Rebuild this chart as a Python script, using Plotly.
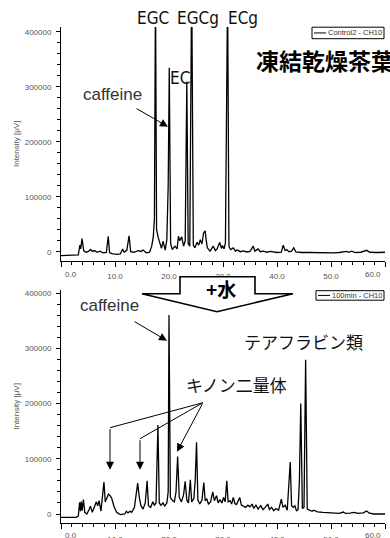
import plotly.graph_objects as go

# ---------------- data ----------------
# Control (freeze-dried tea leaves) chromatogram, time [min] / intensity [uV]
ctrl_time = [0.0, 2.8, 3.2, 3.5, 3.65, 3.9, 4.2, 4.6, 5.0, 5.5, 5.8, 6.2, 6.7, 7.2, 7.8, 8.4, 8.75, 9.0,
             9.6, 10.5, 11.0, 11.4, 11.7, 12.2, 12.6, 12.9, 13.5, 14.3, 14.8, 15.2, 15.8, 16.4, 16.8, 17.1,
             17.3, 17.5, 17.7, 18.0, 18.3, 18.6, 18.9, 19.3, 19.6, 19.85, 20.05, 20.3, 20.6, 21.1, 21.5,
             21.75, 22.0, 22.35, 22.7, 23.0, 23.3, 23.55, 23.85, 24.2, 24.5, 24.8, 25.2, 25.5, 25.8, 26.1,
             26.4, 26.7, 26.9, 27.1, 27.6, 28.2, 28.6, 28.9, 29.4, 29.7, 29.9, 30.2, 30.45, 30.85, 31.1,
             31.4, 31.9, 32.3, 32.6, 33.2, 33.8, 34.4, 35.0, 35.6, 35.9, 36.2, 36.5, 36.9, 37.5, 38.1, 38.8,
             40.0, 40.8, 41.15, 41.5, 41.8, 42.2, 42.7, 43.1, 43.5, 44.5, 46.0, 47.5, 49.0, 50.5, 51.5,
             52.9, 53.3, 53.8, 54.5, 55.5, 56.6, 57.2, 58.5, 60.0]
ctrl_int = [-7000, -7000, -6000, 12000, 5000, 24000, 2000, -1000, 0, 4000, 500, 2000, -1000, 1000, -2000,
            -1500, 28000, -2000, -4000, -5000, -4000, 5000, -1000, 3000, 29000, 0, -1000, 2000, 500, 3000,
            -2000, -1000, 10000, 28000, 60000, 480000, 40000, 26000, 15000, 6000, 19000, 3000, 22000, 120000,
            335000, 15000, 4000, 10000, 5000, 28000, 20000, 27000, 10000, 20000, 310000, 15000, 10000,
            500000, 12000, 7000, 17000, 12000, 22000, 14000, 34000, 38000, 20000, 7000, 1000, 10000, 2000,
            5000, 17000, 6000, 11000, 5000, 16000, 480000, 10000, 4000, 7000, 1000, 3000, 0, 1500, -500,
            500, 10000, 1000, 3000, 5000, 0, 1000, -1000, 500, -1500, -1000, 12000, 2000, 4000, 0, 1000,
            7000, -500, -1500, -1500, -2000, -1800, -2000, -1500, 500, -1000, 1000, -1500, -1000, 2500,
            -1000, -1500, -1000]

# After 100 min with water
wet_time = [0.0, 2.8, 3.2, 3.45, 3.6, 3.75, 3.9, 4.15, 4.4, 4.8, 5.2, 5.45, 5.8, 6.2, 6.55, 6.8, 7.05,
            7.4, 7.95, 8.2, 8.5, 8.8, 9.1, 9.4, 9.8, 10.3, 11.0, 11.8, 12.1, 12.4, 12.8, 13.1, 13.6, 13.95,
            14.2, 14.5, 14.8, 15.2, 15.6, 15.95, 16.2, 16.6, 17.0, 17.3, 17.6, 17.95, 18.2, 18.5, 18.9,
            19.2, 19.6, 19.85, 20.0, 20.25, 20.6, 21.0, 21.3, 21.6, 21.9, 22.3, 22.7, 23.0, 23.3, 23.6,
            23.95, 24.2, 24.6, 24.85, 25.1, 25.35, 25.7, 26.1, 26.45, 26.7, 27.0, 27.3, 27.7, 28.1, 28.4,
            28.8, 29.1, 29.4, 29.8, 30.1, 30.4, 30.7, 30.95, 31.3, 31.6, 31.9, 32.2, 32.5, 32.8, 33.1,
            33.4, 33.7, 34.2, 34.6, 35.0, 35.4, 35.7, 36.1, 36.5, 37.0, 37.4, 37.8, 38.3, 38.6, 39.0,
            39.4, 39.8, 40.3, 40.8, 41.1, 41.5, 41.9, 42.2, 42.45, 42.7, 43.0, 43.3, 43.6, 43.9, 44.15,
            44.4, 44.7, 45.0, 45.3, 45.6, 46.0, 46.5, 46.8, 47.5, 48.5, 49.5, 50.5, 51.5, 52.3, 52.7,
            53.5, 54.3, 55.0, 56.0, 56.6, 57.1, 58.0, 59.0, 60.0]
wet_int = [-6000, -6000, -4000, 21000, 5000, 22500, 6000, 26000, 3000, 0, 8000, 14000, 3000, 12000, 22000,
           15000, 24000, 5000, 58000, 22000, 30000, 36000, 33000, 28000, 14000, 3000, -1000, 0, 5000, 2000,
           5000, 3000, 12000, 35000, 56000, 30000, 15000, 9000, 20000, 60000, 15000, 12000, 22000, 16000,
           20000, 161000, 20000, 16000, 20000, 14000, 20000, 40000, 360000, 30000, 25000, 22000, 40000,
           104000, 30000, 22000, 35000, 59000, 25000, 20000, 62000, 22000, 28000, 60000, 130000, 25000,
           18000, 25000, 57000, 24000, 27000, 18000, 22000, 40000, 24000, 33000, 20000, 26000, 20000, 30000,
           22000, 60000, 22000, 24000, 18000, 30000, 19000, 17000, 24000, 30000, 16000, 15000, 12000, 16000,
           13000, 18000, 10000, 16000, 9000, 15000, 8000, 12000, 18000, 8000, 12000, 6000, 10000, 7000,
           27000, 12000, 16000, 7000, 50000, 94000, 15000, 12000, 15000, 6000, 8000, 60000, 200000, 10000,
           12000, 279000, 9000, 7000, 5000, 7000, 4000, 3000, 2000, 1500, 1000, 3500, 1000, 1500, 3000,
           1000, 2000, 5500, 1500, 0, -500, 0]

x_ticks = [0, 10, 20, 30, 40, 50, 60]
x_labels = ["0.0", "10.0", "20.0", "30.0", "40.0", "50.0", "60.0"]
y_ticks = [0, 100000, 200000, 300000, 400000]
series_names = ["Control2 - CH10", "100min - CH10"]

# ---------------- layout helpers (pixel -> paper) ----------------
W, H = 390, 538
L, R, T, B = 61, 385, 27.3, 523.3


def px(x):
    return (x - L) / (R - L)


def py(y):
    return 1 - (y - T) / (B - T)


TICK_FONT = dict(family="Liberation Sans, Arial, sans-serif", size=8, color="#555555")
LABEL_FONT = "Liberation Sans, Arial, sans-serif"
JP_FONT = "Noto Sans CJK JP, sans-serif"

fig = go.Figure()
fig.add_trace(go.Scatter(x=ctrl_time, y=ctrl_int, mode="lines", name=series_names[0],
                         line=dict(color="black", width=1.3), xaxis="x", yaxis="y", showlegend=False))
fig.add_trace(go.Scatter(x=wet_time, y=wet_int, mode="lines", name=series_names[1],
                         line=dict(color="black", width=1.3), xaxis="x2", yaxis="y2", showlegend=False))

# inner tick labels come from the axis; the two edge labels are nudged inwards like the original
inner_text = [""] + x_labels[1:-1] + [""]


def xaxis(anchor):
    return dict(anchor=anchor, range=[0, 60], tickvals=x_ticks, ticktext=inner_text, automargin=False,
                showline=True, linecolor="black", linewidth=1, ticks="outside", ticklen=5,
                tickcolor="black", tickwidth=1, showgrid=False, zeroline=False,
                minor=dict(dtick=2, ticks="outside", ticklen=3, tickcolor="black", showgrid=False),
                tickfont=TICK_FONT, ticklabelstandoff=3)


def yaxis(anchor, domain, rng):
    return dict(anchor=anchor, domain=domain, range=rng, tickvals=y_ticks, tickformat="d",
                automargin=False,
                showline=True, linecolor="black", linewidth=1, ticks="outside", ticklen=4,
                tickcolor="black", tickwidth=1, showgrid=False, zeroline=False,
                minor=dict(dtick=20000, ticks="outside", ticklen=3, tickcolor="black", showgrid=False),
                tickfont=TICK_FONT, ticklabelstandoff=3,
                title=dict(text="Intensity [μV]", font=TICK_FONT, standoff=3))


fig.update_layout(
    width=W, height=H,
    margin=dict(l=L, r=W - R, t=T, b=H - B, pad=0, autoexpand=False),
    paper_bgcolor="white", plot_bgcolor="white",
    xaxis=xaxis("y"), xaxis2=xaxis("y2"),
    yaxis=yaxis("x", [py(261), 1], [-16400, 409000]),
    yaxis2=yaxis("x2", [0, py(290)], [-16300, 406000]),
)

ann = []
shapes = []


def text(x, y, s, size, family=LABEL_FONT, color="#222222", xanchor="center", weight="normal"):
    ann.append(dict(x=px(x), y=py(y), xref="paper", yref="paper", text=s, showarrow=False,
                    xanchor=xanchor, yanchor="middle",
                    font=dict(family=family, size=size, color=color, weight=weight)))


def arrow(tx, ty, hx, hy):
    ann.append(dict(x=px(hx), y=py(hy), xref="paper", yref="paper", text="", showarrow=True,
                    ax=tx - hx, ay=ty - hy, axref="pixel", ayref="pixel",
                    arrowhead=2, arrowsize=1.6, arrowwidth=1, arrowcolor="black",
                    font=dict(size=1)))


# edge tick labels of both x axes
for ylab in [275, 536]:
    ann.append(dict(x=0, y=py(ylab), xref="paper", yref="paper", text=x_labels[0], showarrow=False,
                    xanchor="left", xshift=2, yanchor="middle", font=TICK_FONT))
    ann.append(dict(x=1, y=py(ylab), xref="paper", yref="paper", text=x_labels[-1], showarrow=False,
                    xanchor="right", xshift=-2, yanchor="middle", font=TICK_FONT))

NARROW = "Liberation Sans Narrow, DejaVu Sans Condensed, Arial Narrow, sans-serif"
# top panel labels
text(153, 18.5, "EGC", 17, NARROW, "#111111")
text(198, 18.5, "EGCg", 17, NARROW, "#111111")
text(243, 18.5, "ECg", 17, NARROW, "#111111")
text(180, 78, "EC", 17, NARROW, "#111111")
text(112, 95, "caffeine", 17, LABEL_FONT, "#333333")
arrow(135, 108, 168, 127)
# big sample title, running off the right edge as in the original
text(254, 60, "凍結乾燥茶葉", 23, JP_FONT, "black", xanchor="left", weight="bold")

# bottom panel labels
text(109, 306, "caffeine", 17, LABEL_FONT, "#333333")
arrow(133, 321, 167, 341)
text(303, 342, "テアフラビン類", 17, JP_FONT, "#111111")
text(236, 385, "キノン二量体", 17, JP_FONT, "#111111")

# quinone-dimer pointer lines
ox, oy = 203, 403
for bx, by in [(110, 428), (140, 439)]:
    shapes.append(dict(type="line", xref="paper", yref="paper", x0=px(ox), y0=py(oy), x1=px(bx), y1=py(by),
                       line=dict(color="black", width=1)))
    arrow(bx, by, bx, 470)
arrow(ox, oy, 177, 452)

# big "+水" block arrow between panels
pts = [(180, 277), (255, 277), (255, 294), (293, 294), (217, 312), (142, 294), (180, 294)]
path = "M " + " L ".join(f"{px(a):.5f},{py(b):.5f}" for a, b in pts) + " Z"
shapes.append(dict(type="path", xref="paper", yref="paper", path=path, fillcolor="white",
                   line=dict(color="black", width=1.6), layer="above"))
text(221, 289, "+水", 19, JP_FONT, "black", weight="bold")

# legend-like boxes
for (x0, y0, x1, y1), name in [((312, 27.5, 384, 39), series_names[0]),
                               ((316, 291, 384, 300.5), series_names[1])]:
    shapes.append(dict(type="rect", xref="paper", yref="paper", x0=px(x0), y0=py(y0), x1=px(x1), y1=py(y1),
                       fillcolor="white", line=dict(color="black", width=1), layer="above"))
    ym = (y0 + y1) / 2
    shapes.append(dict(type="line", xref="paper", yref="paper", x0=px(x0 + 2), y0=py(ym), x1=px(x0 + 14),
                       y1=py(ym), line=dict(color="black", width=1), layer="above"))
    text(x0 + 14, ym, name, 7.5, LABEL_FONT, "#333333", xanchor="left")

fig.update_layout(annotations=ann, shapes=shapes)
fig.write_html("out.html", config={"displayModeBar": False},
               post_script="document.body.style.margin='0';document.body.style.overflow='hidden';")
